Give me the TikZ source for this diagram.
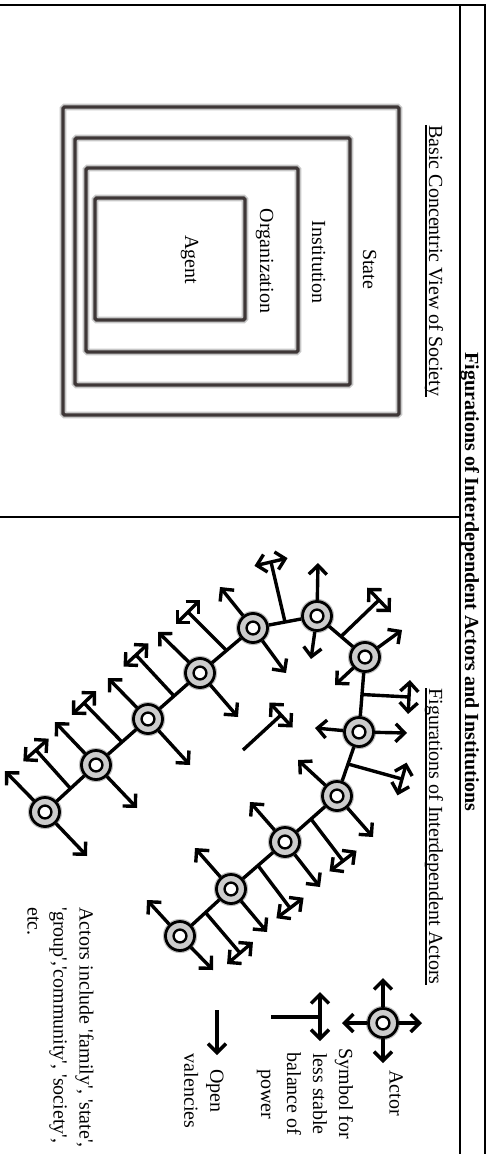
\documentclass[tikz,border=0pt]{standalone}
\usepackage{fontspec}
\setmainfont{Liberation Serif}
\usetikzlibrary{arrows.meta,calc}
\definecolor{concgray}{RGB}{62,55,55}
\newcommand\TSymbol[2]{%
  \draw[tline] (#1) -- (#2);
  \draw[balance] ($(#2)!8.5pt!90:(#1)$) -- ($(#2)!8.5pt!-90:(#1)$);}
\begin{document}
\begin{tikzpicture}[x=0.5pt,y=-0.5pt,
  every node/.style={font=\fontsize{10}{13}\selectfont},
  rot/.style={rotate=-90,inner sep=0pt},
  conc/.style={draw=concgray,line width=1.7pt,rounded corners=0.8pt,preaction={draw=black!22,line width=3.4pt}},
  frame/.style={line width=0.9pt},
  actor/.style={circle,draw=black,line width=1.4pt,fill=black!20,minimum size=14.5pt,inner sep=0pt,
    preaction={draw=black!25,line width=2.6pt},
    path picture={\draw[line width=1.2pt,fill=white] (path picture bounding box.center) circle[radius=3.2pt];}},
  chain/.style={line width=1.7pt},
  valency/.style={line width=1.7pt,-{Straight Barb[length=4.5pt,width=9pt]}},
  balance/.style={line width=1.7pt,{Straight Barb[length=4.5pt,width=9pt]}-{Straight Barb[length=4.5pt,width=9pt]}},
  tline/.style={line width=1.7pt}]
\useasboundingbox (0,0) rectangle (489,1154);
% table frame
\draw[frame] (0,5) -- (485,5) -- (485,1154);
\draw[frame] (460,5) -- (460,1154);
\draw[frame] (0,517) -- (460,517);
% title and subtitles
\node[rot,anchor=base,font=\fontsize{10}{13}\selectfont\bfseries] (title) at (465,582) {Figurations of Interdependent Actors and Institutions};
\node[rot,anchor=base west] (sub1) at (429,125) {Basic Concentric View of Society};
\node[rot,anchor=base west] (sub2) at (429,688) {Figurations of Interdependent Actors};
\draw[line width=0.9pt] ([xshift=0.8pt]sub1.south west) -- ([xshift=0.8pt]sub1.south east);
\draw[line width=0.9pt] ([xshift=0.8pt]sub2.south west) -- ([xshift=0.8pt]sub2.south east);
% concentric view
\draw[conc] (63,107) rectangle (399,415);
\draw[conc] (75,138) rectangle (350,385);
\draw[conc] (86,168) rectangle (298,352);
\draw[conc] (95,198) rectangle (245,320);
\node[rot,anchor=base] (state) at (363,269) {State};
\node[rot,anchor=base] (inst) at (312,262) {Institution};
\node[rot,anchor=base] (org) at (260,261) {Organization};
\node[rot,anchor=base] (agent) at (185,260) {Agent};
% actors
\node[actor] (A1) at (45,812) {};
\node[actor] (A2) at (96,765) {};
\node[actor] (A3) at (148,719) {};
\node[actor] (A4) at (200,673) {};
\node[actor] (A5) at (253,628) {};
\node[actor] (A6) at (317,616) {};
\node[actor] (A7) at (365,657) {};
\node[actor] (A8) at (359,732) {};
\node[actor] (A9) at (337,796) {};
\node[actor] (A10) at (285,842) {};
\node[actor] (A11) at (231,889) {};
\node[actor] (A12) at (180,936) {};
\draw[chain] (A1) -- (A2) -- (A3) -- (A4) -- (A5) -- (A6) -- (A7) -- (A8) -- (A9) -- (A10) -- (A11) -- (A12);
% open valencies of the actors
\draw[valency] (A1) -- (5,771);   \draw[valency] (A1) -- (87,856);
\draw[valency] (A2) -- (55,722);  \draw[valency] (A2) -- (137,808);
\draw[valency] (A3) -- (108,678); \draw[valency] (A3) -- (190,765);
\draw[valency] (A4) -- (158,632); \draw[valency] (A4) -- (238,717);
\draw[valency] (A5) -- (220,587); \draw[valency] (A5) -- (286,673);
\draw[valency] (A6) -- (318,563); \draw[valency] (A6) -- (311,659);
\draw[valency] (A7) -- (402,630); \draw[valency] (A7) -- (335,685);
\draw[valency] (A8) -- (407,733); \draw[valency] (A8) -- (315,728);
\draw[valency] (A9) -- (298,760); \draw[valency] (A9) -- (373,837);
\draw[valency] (A10) -- (250,802); \draw[valency] (A10) -- (320,887);
\draw[valency] (A11) -- (195,848); \draw[valency] (A11) -- (267,932);
\draw[valency] (A12) -- (147,900); \draw[valency] (A12) -- (213,970);
% balance-of-power symbols between actors
\coordinate (m12) at ($(A1)!0.5!(A2)$);   \coordinate (t12) at (36,750);
\coordinate (m23) at ($(A2)!0.5!(A3)$);   \coordinate (t23) at (84,703);
\coordinate (m34) at ($(A3)!0.5!(A4)$);   \coordinate (t34) at (136,655);
\coordinate (m45) at ($(A4)!0.5!(A5)$);   \coordinate (t45) at (188,612);
\coordinate (m56) at ($(A5)!0.5!(A6)$);   \coordinate (t56) at (271,562);
\coordinate (m67) at ($(A6)!0.5!(A7)$);   \coordinate (t67) at (379,600);
\coordinate (m78) at ($(A7)!0.5!(A8)$);   \coordinate (t78) at (409,697);
\coordinate (m89) at ($(A8)!0.5!(A9)$);   \coordinate (t89) at (402,779);
\coordinate (m910) at ($(A9)!0.5!(A10)$); \coordinate (t910) at (343,861);
\coordinate (m1011) at ($(A10)!0.5!(A11)$); \coordinate (t1011) at (290,908);
\coordinate (m1112) at ($(A11)!0.5!(A12)$); \coordinate (t1112) at (240,953);
\TSymbol{m12}{t12}
\TSymbol{m23}{t23}
\TSymbol{m34}{t34}
\TSymbol{m45}{t45}
\TSymbol{m56}{t56}
\TSymbol{m67}{t67}
\TSymbol{m78}{t78}
\TSymbol{m89}{t89}
\TSymbol{m910}{t910}
\TSymbol{m1011}{t1011}
\TSymbol{m1112}{t1112}
% free-standing symbol
\coordinate (s0) at (243,750); \coordinate (s1) at (281,715);
\TSymbol{s0}{s1}
% legend
\node[actor] (AL) at (383,1023) {};
\draw[valency] (AL) -- (383,978);
\draw[valency] (AL) -- (422,1023);
\draw[valency] (AL) -- (342,1023);
\draw[valency] (AL) -- (383,1063);
\node[rot] (lactor) at (396,1093) {Actor};
\coordinate (lt0) at (271,1017); \coordinate (lt1) at (320,1017);
\draw[tline] (lt0) -- (lt1);
\draw[balance] (320,992) -- (320,1041);
\node[rot,align=center] (lsym) at (305,1094) {Symbol for\\less stable\\balance of\\power};
\coordinate (lv0) at (217,1010); \coordinate (lv1) at (217,1055);
\draw[valency] (lv0) -- (lv1);
\node[rot,align=center] (lopen) at (204,1091) {Open\\valencies};
\node[rot,align=left,anchor=north west] (lnote) at (94,907) {Actors include \textquotesingle family\textquotesingle, \textquotesingle state\textquotesingle,\\\textquotesingle group\textquotesingle,\textquotesingle community\textquotesingle, \textquotesingle society\textquotesingle,\\etc.};
\end{tikzpicture}
\end{document}
